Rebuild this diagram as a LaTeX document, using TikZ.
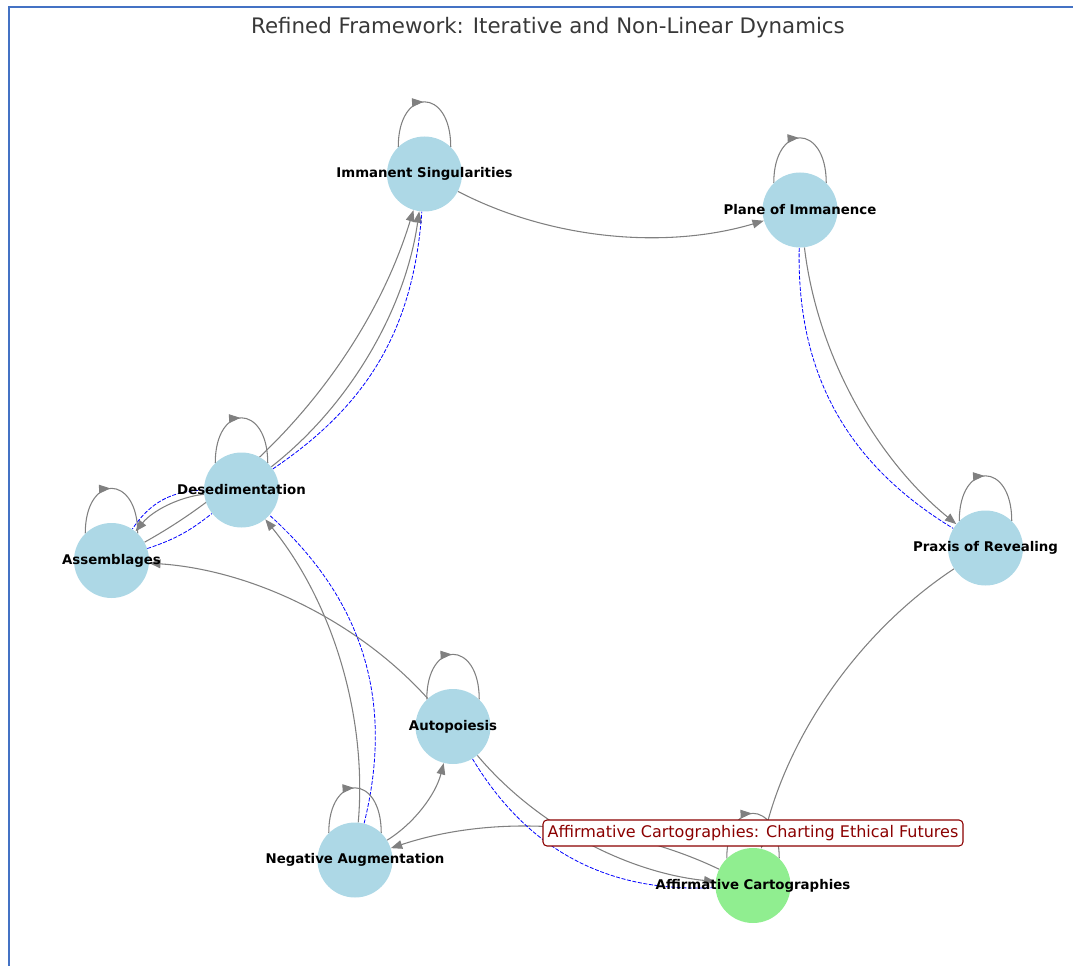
\documentclass[tikz,border=0pt]{standalone}
\usepackage{fontspec}
\setmainfont{DejaVu Sans}
\usepackage{xcolor}
\usetikzlibrary{arrows.meta,decorations.markings}
\pgfdeclarelayer{edges}
\pgfsetlayers{edges,main}
\definecolor{nodeblue}{HTML}{ADD8E6}
\definecolor{nodegreen}{HTML}{90EE90}
\definecolor{frameblue}{HTML}{4472C4}
\definecolor{notered}{HTML}{8B0000}

\begin{document}
\begin{tikzpicture}[x=0.75pt, y=0.75pt,
  concept/.style={circle, fill=nodeblue, minimum size=56.25pt, inner sep=0pt},
  nodetext/.style={font=\bfseries\fontsize{10}{12}\selectfont, inner sep=0pt},
  flow/.style={draw=gray, line width=0.8pt, -{Triangle[length=8.5pt,width=6.5pt]}, bend right=22, looseness=0.86},
  nonlinear/.style={draw=blue, line width=0.6pt, dash pattern=on 3pt off 1.2pt, bend right=#1},
  nonlinear/.default=30,
  selfloop/.style={draw=gray, line width=0.8pt, postaction={decorate},
    decoration={markings, mark=at position 0.49 with {\arrow{Triangle[length=8.5pt,width=6.5pt]}}}}]
	\useasboundingbox (0,0) rectangle (1073,-966);
	\draw[frameblue, line width=1.2pt] (9,-966) -- (9,-7) -- (1073,-7);
	\node[font=\fontsize{16}{19}\selectfont, text=black!78] (title) at (548,-28) {Refined Framework: Iterative and Non-Linear Dynamics};

	% concepts
	\node[concept] (imm) at (424.5,-174) {};
	\node[concept] (pla) at (800,-210) {};
	\node[concept] (pra) at (985.5,-548) {};
	\node[concept, fill=nodegreen] (aff) at (753,-885.5) {};
	\node[concept] (neg) at (355,-860) {};
	\node[concept] (aut) at (453,-726.5) {};
	\node[concept] (des) at (241.5,-490) {};
	\node[concept] (ass) at (111.5,-560.5) {};

	\begin{pgfonlayer}{edges}
		% iterative links
		\draw[flow] (imm) to (pla);
		\draw[flow] (pla) to (pra);
		\draw[flow] (pra) to (aff);
		\draw[flow] (aff) to (neg);
		\draw[flow] (neg) to (aut);
		\draw[flow] (aut) to (ass);
		\draw[flow] (neg) to (des);
		\draw[flow] (des) to (ass);
		\draw[flow] (ass) to (imm);
		\draw[flow] (des) to (imm);
		\draw[flow] (aut) to (aff);
		% non-linear links
		\draw[nonlinear=30] (pla) to (pra);
		\draw[nonlinear=26] (des) to (imm);
		\draw[nonlinear=28] (des) to (ass);
		\draw[nonlinear=10] (ass) to (des);
		\draw[nonlinear=31] (neg) to (des);
		\draw[nonlinear=31] (aut) to (aff);
		% self loops
		\foreach \n in {imm,pla,pra,aff,neg,aut,des,ass}
			\draw[selfloop] (\n.134) .. controls +(0,60) and +(0,60) .. (\n.46);
	\end{pgfonlayer}

	\node[nodetext] (imm-t) at (imm) {Immanent Singularities};
	\node[nodetext] (pla-t) at (pla) {Plane of Immanence};
	\node[nodetext] (pra-t) at (pra) {Praxis of Revealing};
	\node[nodetext] (aff-t) at (aff) {Affirmative Cartographies};
	\node[nodetext] (neg-t) at (neg) {Negative Augmentation};
	\node[nodetext] (aut-t) at (aut) {Autopoiesis};
	\node[nodetext] (des-t) at (des) {Desedimentation};
	\node[nodetext] (ass-t) at (ass) {Assemblages};

	\node[draw=notered, line width=0.8pt, fill=white, rounded corners=3pt, text=notered,
		font=\fontsize{12}{14}\selectfont, inner xsep=3.5pt, minimum height=19.5pt]
		(futures) at (753,-833) {Affirmative Cartographies: Charting Ethical Futures};
\end{tikzpicture}
\end{document}
